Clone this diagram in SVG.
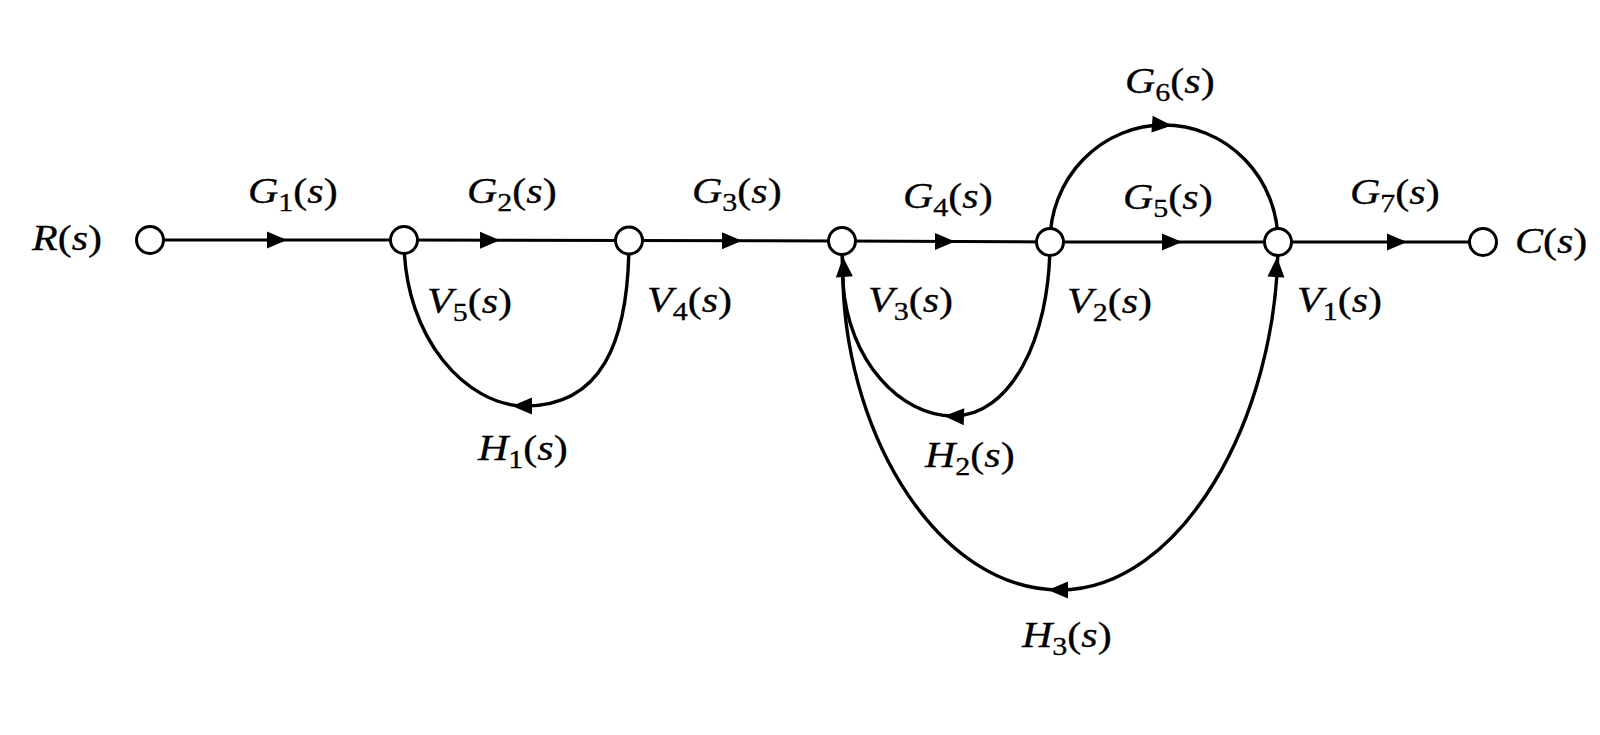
<svg xmlns="http://www.w3.org/2000/svg" xmlns:xlink="http://www.w3.org/1999/xlink" width="1600" height="735" viewBox="0 0 1600 735">
<style>
.t{font-family:"Liberation Serif","Times New Roman",serif;font-size:35px;fill:#000;stroke:#000;stroke-width:0.3}
.i{font-style:italic}
.sub{font-size:25px}
.ln{fill:none;stroke:#000;stroke-width:3}
.cv{fill:none;stroke:#000;stroke-width:3.4}
.nd{fill:#fff;stroke:#000;stroke-width:3}
.ah{fill:#000;stroke:none}
</style>
<defs>
<path id="ah" class="ah" d="M0,0 L-20,-8.5 L-20,8.5 Z"/>
</defs>
<rect width="1600" height="735" fill="#fff"/>
<g id="connectors">
<path class="ln" d="M150,240 L404,240"/>
<path class="ln" d="M404,240 L629,240.5"/>
<path class="ln" d="M629,240.5 L842,241"/>
<path class="ln" d="M842,241 L1050,242"/>
<path class="ln" d="M1050,242 L1278,242"/>
<path class="ln" d="M1278,242 L1483,242"/>
<path class="cv" d="M1050,242 A114,117 0 0 1 1278,242"/>
<path class="cv" d="M404,240 C404,340 468,406 525,406 C600,406 629,345 629,240"/>
<path class="cv" d="M1050,242 C1050,340 1010,416 953,416 C900,416 848,360 843,283 L842,241"/>
<path class="cv" d="M1278,242 C1278,420 1180,590 1060,590 C940,590 848,440 843,283 L842,241"/>
<use xlink:href="#ah" href="#ah" transform="translate(287,240)"/>
<use xlink:href="#ah" href="#ah" transform="translate(500,240.2)"/>
<use xlink:href="#ah" href="#ah" transform="translate(742,240.7)"/>
<use xlink:href="#ah" href="#ah" transform="translate(955,241.5)"/>
<use xlink:href="#ah" href="#ah" transform="translate(1182,242)"/>
<use xlink:href="#ah" href="#ah" transform="translate(1407,242)"/>
<use xlink:href="#ah" href="#ah" transform="translate(1172,125.5) rotate(4)"/>
<use xlink:href="#ah" href="#ah" transform="translate(512,406) rotate(180)"/>
<use xlink:href="#ah" href="#ah" transform="translate(944,416) rotate(182)"/>
<use xlink:href="#ah" href="#ah" transform="translate(1048,590) rotate(180)"/>
<use xlink:href="#ah" href="#ah" transform="translate(843,257) rotate(-94)"/>
<use xlink:href="#ah" href="#ah" transform="translate(1277,257) rotate(-87)"/>
</g>
<g id="edge-labels">
<text class="t" transform="translate(248,203) scale(1.2,1)"><tspan class="i">G</tspan><tspan class="sub" dy="8">1</tspan><tspan dy="-8">(</tspan><tspan class="i">s</tspan>)</text>
<text class="t" transform="translate(467,203) scale(1.2,1)"><tspan class="i">G</tspan><tspan class="sub" dy="8">2</tspan><tspan dy="-8">(</tspan><tspan class="i">s</tspan>)</text>
<text class="t" transform="translate(692,203) scale(1.2,1)"><tspan class="i">G</tspan><tspan class="sub" dy="8">3</tspan><tspan dy="-8">(</tspan><tspan class="i">s</tspan>)</text>
<text class="t" transform="translate(903,208) scale(1.2,1)"><tspan class="i">G</tspan><tspan class="sub" dy="8">4</tspan><tspan dy="-8">(</tspan><tspan class="i">s</tspan>)</text>
<text class="t" transform="translate(1123,209) scale(1.2,1)"><tspan class="i">G</tspan><tspan class="sub" dy="8">5</tspan><tspan dy="-8">(</tspan><tspan class="i">s</tspan>)</text>
<text class="t" transform="translate(1125,93) scale(1.2,1)"><tspan class="i">G</tspan><tspan class="sub" dy="8">6</tspan><tspan dy="-8">(</tspan><tspan class="i">s</tspan>)</text>
<text class="t" transform="translate(1350,204) scale(1.2,1)"><tspan class="i">G</tspan><tspan class="sub" dy="8">7</tspan><tspan dy="-8">(</tspan><tspan class="i">s</tspan>)</text>
<text class="t" transform="translate(478,460) scale(1.2,1)"><tspan class="i">H</tspan><tspan class="sub" dy="8">1</tspan><tspan dy="-8">(</tspan><tspan class="i">s</tspan>)</text>
<text class="t" transform="translate(925,467) scale(1.2,1)"><tspan class="i">H</tspan><tspan class="sub" dy="8">2</tspan><tspan dy="-8">(</tspan><tspan class="i">s</tspan>)</text>
<text class="t" transform="translate(1022,647) scale(1.2,1)"><tspan class="i">H</tspan><tspan class="sub" dy="8">3</tspan><tspan dy="-8">(</tspan><tspan class="i">s</tspan>)</text>
</g>
<g id="node-R">
<circle class="nd" cx="150" cy="240" r="13.5"/>
<text class="t" transform="translate(32,250) scale(1.2,1)"><tspan class="i">R</tspan>(<tspan class="i">s</tspan>)</text>
</g>
<g id="node-V5">
<circle class="nd" cx="404" cy="240" r="13.5"/>
<text class="t" transform="translate(427,313) scale(1.2,1)"><tspan class="i">V</tspan><tspan class="sub" dy="8">5</tspan><tspan dy="-8">(</tspan><tspan class="i">s</tspan>)</text>
</g>
<g id="node-V4">
<circle class="nd" cx="629" cy="240.5" r="13.5"/>
<text class="t" transform="translate(647,312) scale(1.2,1)"><tspan class="i">V</tspan><tspan class="sub" dy="8">4</tspan><tspan dy="-8">(</tspan><tspan class="i">s</tspan>)</text>
</g>
<g id="node-V3">
<circle class="nd" cx="842" cy="241" r="13.5"/>
<text class="t" transform="translate(868,312) scale(1.2,1)"><tspan class="i">V</tspan><tspan class="sub" dy="8">3</tspan><tspan dy="-8">(</tspan><tspan class="i">s</tspan>)</text>
</g>
<g id="node-V2">
<circle class="nd" cx="1050" cy="242" r="13.5"/>
<text class="t" transform="translate(1067,313) scale(1.2,1)"><tspan class="i">V</tspan><tspan class="sub" dy="8">2</tspan><tspan dy="-8">(</tspan><tspan class="i">s</tspan>)</text>
</g>
<g id="node-V1">
<circle class="nd" cx="1278" cy="242" r="13.5"/>
<text class="t" transform="translate(1297,312) scale(1.2,1)"><tspan class="i">V</tspan><tspan class="sub" dy="8">1</tspan><tspan dy="-8">(</tspan><tspan class="i">s</tspan>)</text>
</g>
<g id="node-C">
<circle class="nd" cx="1483" cy="242" r="13.5"/>
<text class="t" transform="translate(1515,253) scale(1.2,1)"><tspan class="i">C</tspan>(<tspan class="i">s</tspan>)</text>
</g>
</svg>
